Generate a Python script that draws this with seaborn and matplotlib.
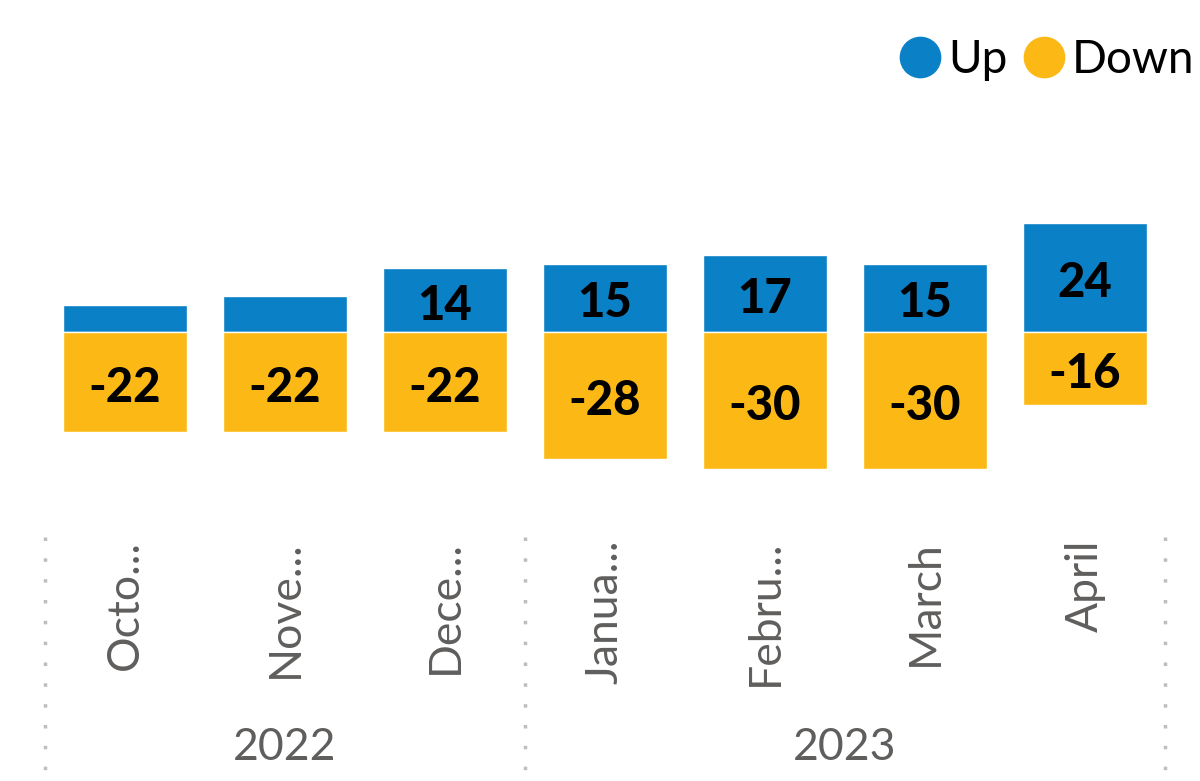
import matplotlib
matplotlib.use("Agg")
import matplotlib.pyplot as plt
import matplotlib.transforms as mtransforms
from matplotlib.lines import Line2D
import seaborn as sns
import pandas as pd

# Monthly sentiment balance: share answering "up" vs "down"
months = ["Octo...", "Nove...", "Dece...", "Janua...", "Febru...", "March", "April"]
years = ["2022", "2023"]
year_spans = [(0, 2), (3, 6)]
up = [6, 8, 14, 15, 17, 15, 24]
down = [-22, -22, -22, -28, -30, -30, -16]
series = ["Up", "Down"]
colors = {"Up": "#0A80C6", "Down": "#FCB815"}

df = pd.DataFrame({
    "month": months * 2,
    "value": up + down,
    "series": ["Up"] * len(months) + ["Down"] * len(months),
})

sns.set_theme(style="white")
plt.rcParams["font.family"] = ["Lato", "DejaVu Sans"]

W, H, DPI = 1200, 781, 100
fig = plt.figure(figsize=(W / DPI, H / DPI), dpi=DPI)

# axes placement in pixels
x0, x1 = 45, 1165
ymin, ymax = -35, 30
zero_px, px_per_unit = 332, 4.55
top_px = zero_px - ymax * px_per_unit
bot_px = zero_px - ymin * px_per_unit
ax = fig.add_axes([x0 / W, 1 - bot_px / H, (x1 - x0) / W, (bot_px - top_px) / H])

sns.barplot(data=df, x="month", y="value", hue="series", palette=colors,
            dodge=False, width=0.78, order=months, hue_order=series,
            saturation=1, ax=ax, legend=False)

ax.set_xlim(-0.5, len(months) - 0.5)
ax.set_ylim(ymin, ymax)
ax.set_yticks([])
ax.set_xlabel("")
ax.set_ylabel("")
for s in ax.spines.values():
    s.set_visible(False)

# value labels, skipped where the segment is too thin
for cont, vals in zip(ax.containers, [up, down]):
    labels = [str(v) if abs(v) >= 10 else "" for v in vals]
    anns = ax.bar_label(cont, labels=labels, label_type="center",
                        fontsize=34, fontweight="black", color="black")
    for a in anns:
        a.xyann = (0, -4)

pad_pt = (540 - bot_px) * 72 / DPI
ax.set_xticks(range(len(months)))
ax.set_xticklabels(months, rotation=90, fontsize=32, color="#605E5C")
ax.tick_params(axis="x", length=0, pad=pad_pt)

# year group labels and dotted separators
trans = mtransforms.blended_transform_factory(ax.transData, fig.transFigure)
for yr, (a, b) in zip(years, year_spans):
    ax.text((a + b) / 2, 1 - 747 / H, yr, transform=trans, ha="center",
            va="center", fontsize=32, color="#605E5C")
for xb in [-0.5, 2.5, len(months) - 0.5]:
    ax.add_line(Line2D([xb, xb], [1 - 537 / H, 0], transform=trans,
                       color="#BDBDBD", lw=2.5, ls=(0, (1, 5)), clip_on=False))

handles = [Line2D([], [], marker="o", ls="", markersize=29,
                  markerfacecolor=colors[s], markeredgecolor=colors[s])
           for s in series]
fig.legend(handles, series, loc="center right", bbox_to_anchor=(1194 / W, 1 - 60 / H),
           ncol=2, frameon=False, fontsize=33, handletextpad=0.1,
           columnspacing=0.3, handlelength=1.0, borderpad=0, borderaxespad=0,
           labelcolor="black")

fig.savefig("out.png", dpi=DPI)
